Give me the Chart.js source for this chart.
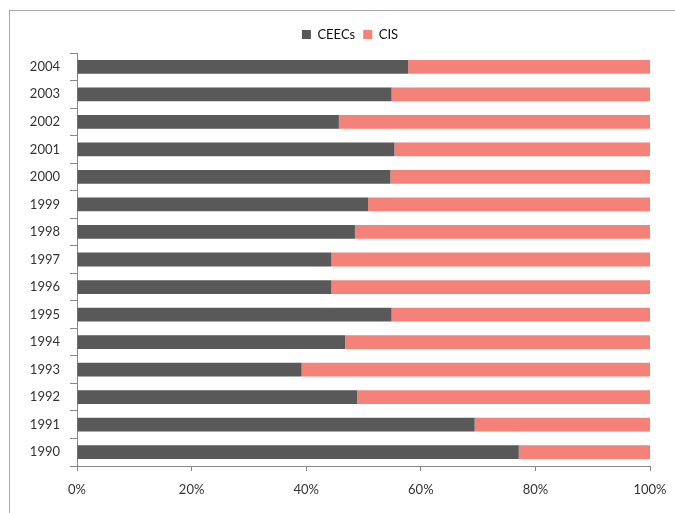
<!DOCTYPE html>
<html>
<head>
<meta charset="utf-8">
<script src="https://cdn.jsdelivr.net/npm/chart.js@4/dist/chart.umd.min.js"></script>
<style>
  body { margin: 0; background: #fff; }
  #wrap { position: relative; width: 675px; height: 513px; overflow: hidden; }
  #frame { position: absolute; left: 9px; top: 10px; width: 700px; height: 600px; border: 1px solid #aaa; }
  #myChart { position: absolute; left: 0; top: 0; }
</style>
</head>
<body>
<div id="wrap">
  <div id="frame"></div>
  <canvas id="myChart" width="675" height="513"></canvas>
</div>
<script>
// years, bottom to top as in the picture
var years = ['1990', '1991', '1992', '1993', '1994', '1995', '1996', '1997', '1998', '1999', '2000', '2001', '2002', '2003', '2004'];
// share of CEECs in %
var ceecs = [77.1, 69.4, 48.9, 39.2, 46.8, 54.9, 44.4, 44.4, 48.5, 50.8, 54.7, 55.4, 45.7, 54.9, 57.8];
var cis = ceecs.map(function (v) { return +(100 - v).toFixed(1); });
var xTicks = [0, 20, 40, 60, 80, 100];

Chart.defaults.font.family = 'Lato, "Open Sans", sans-serif';
Chart.defaults.font.size = 13;
Chart.defaults.color = '#333';

var chartdata = {
  labels: years,
  datasets: [
    {
      label: 'CEECs',
      backgroundColor: '#595959',
      data: ceecs,
      barPercentage: 0.5,
      categoryPercentage: 1
    },
    {
      label: 'CIS',
      backgroundColor: '#f48279',
      data: cis,
      barPercentage: 0.5,
      categoryPercentage: 1
    }
  ]
};

// legend sits centred over the frame, a bit higher than chart.js puts it
var moveLegend = {
  id: 'moveLegend',
  afterLayout: function (chart) {
    var lg = chart.legend;
    lg.left = 25;
    lg.right = 675;
    lg.top -= 2;
    lg.bottom -= 2;
  }
};

new Chart(document.getElementById('myChart'), {
  type: 'bar',
  data: chartdata,
  plugins: [moveLegend],
  options: {
    indexAxis: 'y',
    responsive: false,
    animation: false,
    layout: { padding: { top: 22, right: 25, left: 0, bottom: 0 } },
    plugins: {
      legend: {
        position: 'top',
        labels: { boxWidth: 9, boxHeight: 9, padding: 8, color: '#111' }
      },
      tooltip: { enabled: false }
    },
    scales: {
      x: {
        stacked: true,
        min: 0,
        max: 100,
        afterBuildTicks: function (scale) {
          scale.ticks = xTicks.map(function (v) { return { value: v }; });
        },
        afterFit: function (scale) {
          scale.height = 47;
          scale.paddingLeft = 0;
          scale.paddingRight = 0;
        },
        ticks: {
          padding: 11,
          callback: function (v) { return v + '%'; }
        },
        grid: { drawOnChartArea: false, tickLength: 5, color: '#888' },
        border: { color: '#888' }
      },
      y: {
        stacked: true,
        reverse: true,
        afterFit: function (scale) { scale.width = 77; },
        ticks: { padding: 10 },
        grid: { drawOnChartArea: false, offset: true, tickLength: 7, color: '#888' },
        border: { color: '#888' }
      }
    }
  }
});
</script>
</body>
</html>
